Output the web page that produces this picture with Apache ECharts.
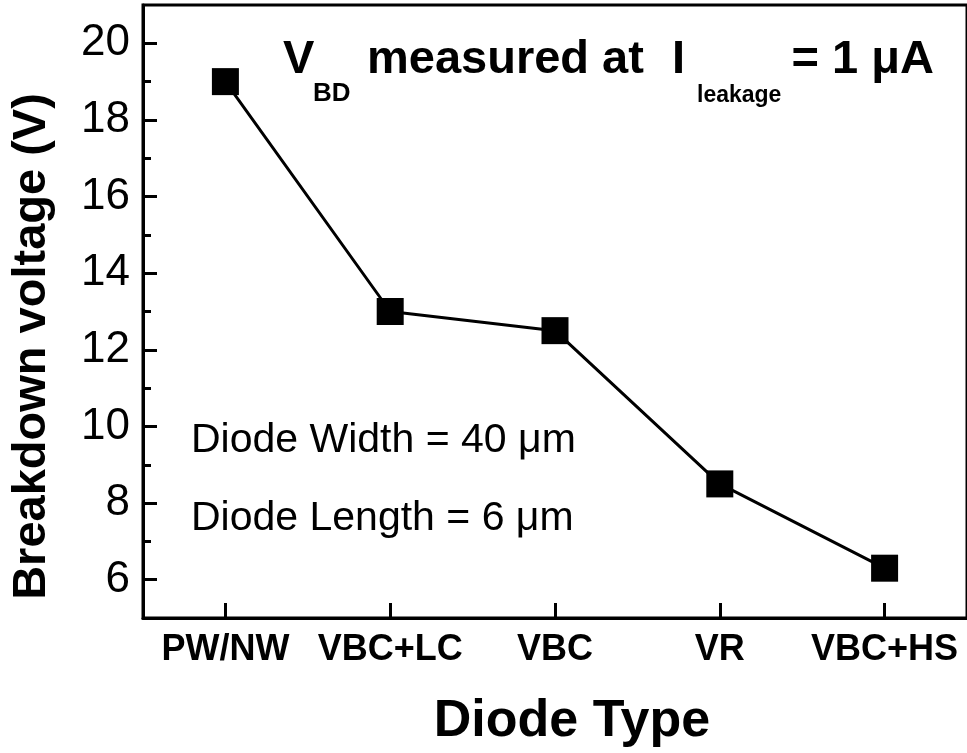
<!DOCTYPE html>
<html>
<head>
<meta charset="utf-8">
<script src="https://cdn.jsdelivr.net/npm/echarts@6/dist/echarts.min.js"></script>
<style>
html,body{margin:0;padding:0;background:#fff;}
#chart{width:967px;height:753px;}
</style>
</head>
<body>
<div id="chart"></div>
<script>
const categories = ['PW/NW', 'VBC+LC', 'VBC', 'VR', 'VBC+HS'];
const breakdownVoltage = [19.0, 13.0, 12.5, 8.5, 6.3];
const yMajorTicks = [6, 8, 10, 12, 14, 16, 18, 20];
const yMinorTicks = [7, 9, 11, 13, 15, 17, 19];
const yRange = [5, 21];
const xTitle = 'Diode Type';
const yTitle = 'Breakdown voltage (V)';
const noteWidth = 'Diode Width = 40 μm';
const noteLength = 'Diode Length = 6 μm';

const FONT = '"Liberation Sans", Arial, Helvetica, sans-serif';
const chart = echarts.init(document.getElementById('chart'), null, {renderer: 'canvas'});

function txt(x, y, text, size, weight, align) {
  return {
    type: 'text', x: x, y: y, z: 100,
    style: {
      text: text, fill: '#000',
      font: (weight || 'normal') + ' ' + size + 'px ' + FONT,
      align: align || 'left', verticalAlign: 'middle',
      textAlign: align || 'left', textVerticalAlign: 'middle'
    }
  };
}

const option = {
  backgroundColor: '#fff',
  animation: false,
  grid: {
    left: 143, top: 5, width: 827.5, height: 616.6,
    show: true, borderColor: '#000', borderWidth: 3, backgroundColor: 'transparent'
  },
  xAxis: {
    type: 'category',
    data: categories,
    boundaryGap: true,
    name: xTitle,
    nameLocation: 'middle',
    nameGap: 78,
    nameTextStyle: {fontFamily: FONT, fontWeight: 'bold', fontSize: 52, color: '#000', padding: [0, 0, 0, 34]},
    axisLine: {show: true, lineStyle: {color: '#000', width: 3}},
    axisTick: {show: true, inside: true, length: 15, alignWithLabel: true, lineStyle: {color: '#000', width: 3}},
    axisLabel: {fontFamily: FONT, fontWeight: 'bold', fontSize: 36, color: '#000', margin: 14, interval: 0},
    splitLine: {show: false}
  },
  yAxis: [
    {
      type: 'value',
      min: yRange[0], max: yRange[1], interval: 1,
      name: yTitle,
      nameLocation: 'middle',
      nameGap: 87,
      nameRotate: 90,
      nameTextStyle: {fontFamily: FONT, fontWeight: 'bold', fontSize: 47, color: '#000', padding: [0, 70, 0, 0]},
      axisLine: {show: true, lineStyle: {color: '#000', width: 3}},
      axisTick: {show: true, inside: true, length: 14, customValues: yMajorTicks, lineStyle: {color: '#000', width: 3}},
      axisLabel: {fontFamily: FONT, fontSize: 44, color: '#000', margin: 13, customValues: yMajorTicks},
      splitLine: {show: false}
    },
    {
      type: 'value',
      min: yRange[0], max: yRange[1], interval: 1,
      position: 'left',
      axisLine: {show: false},
      axisTick: {show: true, inside: true, length: 8, customValues: yMinorTicks, lineStyle: {color: '#000', width: 3}},
      axisLabel: {show: false},
      splitLine: {show: false}
    }
  ],
  series: [{
    type: 'line',
    data: breakdownVoltage,
    yAxisIndex: 0,
    symbol: 'rect',
    symbolSize: 27,
    lineStyle: {color: '#000', width: 3},
    itemStyle: {color: '#000', borderWidth: 0},
    z: 5
  }],
  graphic: [
    txt(283, 60, 'V', 47, 'bold'),
    txt(313, 94, 'BD', 26, 'bold'),
    txt(367, 60, 'measured at', 47, 'bold'),
    txt(672, 60, 'I', 47, 'bold'),
    txt(697, 96, 'leakage', 23, 'bold'),
    txt(934, 60, '= 1 μA', 47, 'bold', 'right'),
    txt(191, 441, noteWidth, 41, 'normal'),
    txt(191, 519, noteLength, 41, 'normal')
  ]
};
chart.setOption(option);
</script>
</body>
</html>
